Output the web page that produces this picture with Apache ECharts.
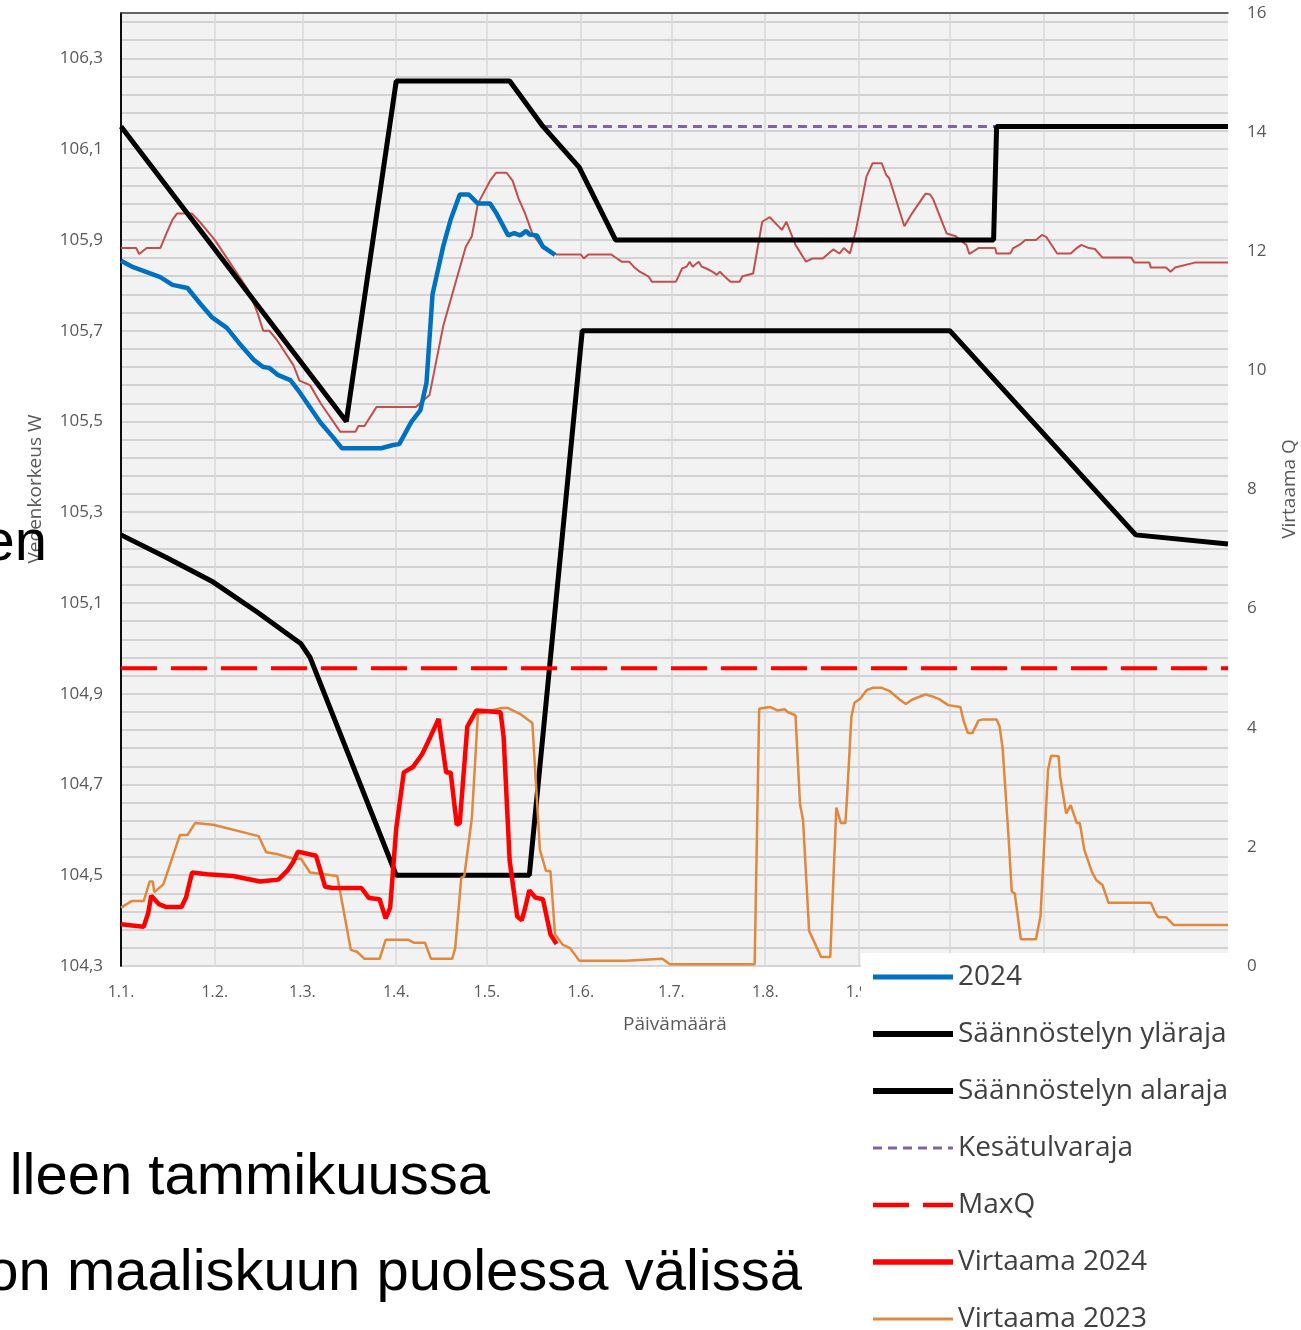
<!DOCTYPE html>
<html>
<head>
<meta charset="utf-8">
<title>Vedenkorkeus ja virtaama</title>
<script src="https://cdn.jsdelivr.net/npm/echarts@6/dist/echarts.min.js"></script>
<style>
html, body { margin: 0; padding: 0; background: #fff; }
#main { width: 1301px; height: 1330px; }
</style>
</head>
<body>
<div id="main"></div>
<script>
// x = päivä vuoden alusta (0 = 1.1.)
var monthStarts = [0, 31, 60, 91, 121, 152, 182, 213, 244, 274, 305, 335];
var monthLabels = ['1.1.', '1.2.', '1.3.', '1.4.', '1.5.', '1.6.', '1.7.', '1.8.', '1.9.', '1.10.', '1.11.', '1.12.'];

var legendNames = ['2024', 'Säännöstelyn yläraja', 'Säännöstelyn alaraja', 'Kesätulvaraja', 'MaxQ', 'Virtaama 2024', 'Virtaama 2023'];
var legendWidths = [5, 6, 6, 3, 4.5, 5.5, 3];

// vedenkorkeus W (vasen akseli)
var level2024 = [[0,105.854],[4,105.84],[13,105.818],[17,105.801],[22,105.794],[26,105.761],[30,105.73],[35,105.706],
  [39,105.673],[44,105.635],[47,105.62],[49,105.618],[52,105.602],[56,105.591],[59,105.565],[66,105.497],[70,105.466],
  [73,105.441],[86,105.441],[90,105.448],[92,105.45],[96,105.499],[99,105.525],[101,105.585],[103,105.78],[106.5,105.885],
  [109,105.945],[112,106.0],[115,106.0],[118,105.98],[122,105.98],[124,105.96],[128,105.91],[130,105.915],[132,105.91],
  [134,105.92],[135,105.912],[137.5,105.91],[139.5,105.885],[143.5,105.867]];

var level2023 = [[0,105.882],[5,105.882],[6,105.869],[8.5,105.882],[13,105.882],[15,105.914],[17,105.944],[18.5,105.958],
  [23.5,105.958],[26,105.94],[31,105.9],[37,105.84],[42,105.79],[45,105.742],[47,105.7],[49,105.7],[51.5,105.68],
  [57,105.624],[59,105.59],[62.5,105.58],[66,105.54],[72.5,105.477],[77.5,105.477],[78.5,105.49],[80.5,105.49],
  [84.5,105.532],[97.5,105.532],[102,105.558],[106.5,105.709],[109,105.768],[114,105.885],[116,105.908],[118,105.98],
  [122,106.03],[124,106.048],[127.5,106.048],[129.5,106.03],[131.5,105.99],[133.5,105.96],[136,105.914],[137.5,105.9],
  [139.5,105.882],[144,105.868],[152,105.868],[153,105.859],[154.5,105.868],[162,105.868],[164,105.859],[165.5,105.852],
  [168,105.852],[169.5,105.841],[171.5,105.83],[174.5,105.819],[175.5,105.808],[183.5,105.808],[185.5,105.837],
  [187,105.841],[188,105.852],[189,105.841],[191,105.852],[192,105.841],[193.5,105.837],[195.5,105.83],[197,105.823],
  [198,105.83],[199.5,105.82],[201.5,105.808],[204.5,105.808],[205.5,105.82],[209,105.826],[212,105.94],[214.5,105.95],
  [218.5,105.922],[220,105.94],[223,105.889],[226.5,105.852],[228.5,105.859],[232,105.859],[235.5,105.879],[237.5,105.87],
  [239,105.882],[241,105.87],[243,105.922],[246.5,106.04],[248.5,106.069],[251.5,106.069],[253,106.043],[254,106.036],
  [259,105.93],[261.5,105.958],[266,106.002],[267.5,106.0],[268.5,105.99],[273,105.914],[276,105.908],[279.5,105.889],
  [280.5,105.869],[283.5,105.882],[289,105.882],[289.5,105.87],[294,105.87],[295,105.882],[297,105.889],[299,105.9],
  [302.5,105.9],[304.5,105.911],[306,105.906],[309.5,105.87],[314,105.87],[316,105.882],[317.5,105.889],[320,105.882],
  [322,105.88],[324.5,105.861],[334,105.861],[335,105.85],[340,105.85],[340.5,105.839],[345.5,105.839],[347,105.83],
  [348.5,105.839],[355,105.85],[366,105.85]];

var upperLimit = [[0,106.15],[74.5,105.5],[91,106.25],[128.5,106.25],[139.5,106.15],[151.5,106.06],[163.5,105.9],
  [288.5,105.9],[289.5,106.15],[366,106.15]];
var lowerLimit = [[0,105.25],[15,105.2],[30.5,105.146],[45,105.08],[59.5,105.01],[62.5,104.98],[91,104.5],[135,104.5],
  [152.5,105.7],[274,105.7],[335.5,105.25],[366,105.23]];
var summerFloodLimit = [[139.5,106.15],[289.5,106.15]];

// virtaama Q (oikea akseli)
var maxQ = [[0,5],[366,5]];
var flow2024 = [[0,0.7],[7.5,0.66],[9,0.89],[10,1.18],[12.5,1.04],[15,0.99],[20,0.99],[21.5,1.15],[23.5,1.57],
  [28.5,1.54],[37,1.51],[46,1.42],[52,1.45],[55,1.6],[57,1.75],[58.5,1.92],[64.5,1.85],[67.5,1.33],[70,1.31],
  [79.5,1.31],[82,1.14],[85.5,1.12],[87.5,0.8],[89,0.98],[91,2.31],[93.5,3.25],[96.5,3.34],[99.5,3.55],[101.5,3.76],
  [105,4.15],[107.5,3.25],[109,3.25],[111,2.37],[112,2.4],[114.5,4.02],[117.5,4.29],[125.5,4.26],[126.5,3.85],
  [128.5,1.77],[131,0.83],[132.5,0.77],[133.5,0.95],[135,1.27],[137,1.15],[139.5,1.12],[142,0.53],[144,0.37]];
var flow2023 = [[0,0.98],[3.5,1.09],[7.5,1.09],[9.5,1.42],[10.5,1.42],[11,1.24],[14,1.37],[19.5,2.2],[22,2.2],
  [24.5,2.4],[30.5,2.37],[45.5,2.18],[48,1.91],[51.5,1.88],[57,1.8],[59.5,1.8],[62.5,1.57],[71.5,1.51],[76,0.27],
  [78,0.24],[80.5,0.12],[85.5,0.12],[87.5,0.44],[95,0.44],[97,0.39],[100.5,0.39],[102.5,0.12],[109.5,0.12],[110.5,0.3],
  [112.5,1.48],[113.5,1.51],[116,2.48],[118,4.23],[120,4.26],[125.5,4.33],[128,4.33],[132,4.23],[136,4.08],[138.5,1.95],
  [140.5,1.6],[142,1.59],[143.5,0.53],[146,0.36],[148.5,0.3],[151.5,0.09],[167,0.09],[167.5,0.12],[179,0.12],
  [181.5,0.03],[209.5,0.03],[211,4.32],[214.5,4.35],[217,4.29],[219.5,4.31],[220.5,4.26],[223,4.21],[224.5,2.72],
  [225.5,2.45],[227.5,0.59],[231.5,0.15],[234.5,0.15],[236.5,2.66],[238,2.4],[239.5,2.4],[240,2.79],[241.5,4.19],
  [242.5,4.42],[244.5,4.49],[246.5,4.63],[248.5,4.67],[251.5,4.67],[254,4.62],[257.5,4.47],[259.5,4.4],[261.5,4.47],
  [264,4.52],[266,4.56],[268,4.53],[270.5,4.48],[273.5,4.38],[277.5,4.35],[278.5,4.13],[280,3.91],[281.5,3.91],
  [283.5,4.12],[285,4.14],[289.5,4.14],[290.5,4.02],[291.5,3.65],[293.5,2.12],[294.5,1.25],[295.5,1.22],[297.5,0.45],
  [302.5,0.45],[304,0.83],[306.5,3.29],[307.5,3.53],[310,3.52],[310.5,3.18],[312.5,2.56],[314,2.7],[316,2.4],[317,2.4],
  [318.5,1.95],[321,1.58],[322.5,1.44],[324.5,1.36],[326.5,1.06],[340.5,1.06],[342,0.89],[343,0.82],[345.5,0.82],
  [348,0.69],[366,0.69]];

var labelFont = 'Open Sans';
var gray = '#595959';

function line(name, data, color, width, yIndex, dash) {
  return {
    name: name,
    type: 'line',
    data: data,
    yAxisIndex: yIndex,
    symbol: 'none',
    animation: false,
    lineStyle: { color: color, width: width, type: dash || 'solid', cap: 'butt' },
    itemStyle: { color: color }
  };
}

var legendData = legendNames.map(function (n, i) {
  return { name: n, lineStyle: { width: legendWidths[i] } };
});

var myChart = echarts.init(document.getElementById('main'));
myChart.setOption({
  backgroundColor: '#fff',
  animation: false,
  grid: { left: 121, top: 13, width: 1107, height: 953, show: true, backgroundColor: '#f2f2f2', borderWidth: 0 },
  xAxis: [{
    type: 'value', min: 0, max: 366,
    axisLine: { show: false },
    axisTick: { show: false, customValues: monthStarts },
    axisLabel: {
      customValues: monthStarts, margin: 18,
      color: gray, fontFamily: labelFont, fontSize: 16,
      formatter: function (v) { return monthLabels[monthStarts.indexOf(v)]; }
    },
    splitLine: { show: true, lineStyle: { color: '#d9d9d9', width: 1.5 } }
  }, {
    type: 'value', min: 0, max: 366, position: 'top',
    axisLine: { show: true, lineStyle: { color: '#404040', width: 1.5 } },
    axisTick: { show: false }, axisLabel: { show: false }, splitLine: { show: false }
  }],
  yAxis: [{
    type: 'value', min: 104.3, max: 106.4, interval: 0.2,
    axisLine: { show: true, lineStyle: { color: '#000', width: 1.5 } },
    axisTick: { show: false },
    axisLabel: {
      margin: 18, showMaxLabel: false,
      color: gray, fontFamily: labelFont, fontSize: 17,
      formatter: function (v) { return v.toFixed(1).replace('.', ','); }
    },
    splitLine: { show: true, lineStyle: { color: '#c8c8c8', width: 1.5 } },
    minorTick: { show: false, splitNumber: 5 },
    minorSplitLine: { show: true, lineStyle: { color: '#c8c8c8', width: 1.5 } }
  }, {
    type: 'value', min: 0, max: 16, interval: 2, position: 'right',
    axisLine: { show: true, lineStyle: { color: '#000', width: 1.5 } },
    axisTick: { show: false },
    axisLabel: { margin: 19, color: gray, fontFamily: labelFont, fontSize: 17 },
    splitLine: { show: false }
  }],
  legend: {
    data: legendData,
    orient: 'vertical', left: 861, top: 953, height: 390,
    padding: [9, 8, 60, 9],
    backgroundColor: '#fff',
    itemWidth: 80, itemHeight: 14, itemGap: 27,
    selectedMode: false,
    itemStyle: { opacity: 0 },
    textStyle: { fontFamily: labelFont, fontSize: 28, color: '#404040', lineHeight: 30 },
    z: 10
  },
  series: [
    line('2023', level2023, '#c0504d', 2, 0),
    line('Kesätulvaraja', summerFloodLimit, '#8064a2', 3, 0, [9, 6]),
    line('Säännöstelyn yläraja', upperLimit, '#000', 5, 0),
    line('Säännöstelyn alaraja', lowerLimit, '#000', 5, 0),
    line('2024', level2024, '#0070c0', 4.5, 0),
    line('MaxQ', maxQ, '#ff0000', 4, 1, [36, 14]),
    line('Virtaama 2023', flow2023, '#e0883c', 2.5, 1),
    line('Virtaama 2024', flow2024, '#ff0000', 4.5, 1)
  ],
  graphic: [
    { type: 'text', x: 36, y: 489, rotation: Math.PI / 2, z: 5,
      style: { text: 'Vedenkorkeus W', fill: gray, font: '19px "Open Sans"', align: 'center', verticalAlign: 'middle' } },
    { type: 'text', x: 1290, y: 489, rotation: Math.PI / 2, z: 5,
      style: { text: 'Virtaama Q', fill: gray, font: '19px "Open Sans"', align: 'center', verticalAlign: 'middle' } },
    { type: 'text', x: 675, y: 1025, z: 5,
      style: { text: 'Päivämäärä', fill: gray, font: '19px "Open Sans"', align: 'center', verticalAlign: 'middle' } },
    { type: 'text', x: 47, y: 544, z: 20,
      style: { text: 'en', fill: '#000', font: '58px "Liberation Sans"', align: 'right', verticalAlign: 'middle' } },
    { type: 'text', x: 490, y: 1178, z: 20,
      style: { text: 'lleen tammikuussa', fill: '#000', font: '58px "Liberation Sans"', align: 'right', verticalAlign: 'middle' } },
    { type: 'text', x: 802, y: 1274, z: 20,
      style: { text: 'on maaliskuun puolessa välissä', fill: '#000', font: '58px "Liberation Sans"', align: 'right', verticalAlign: 'middle' } }
  ]
});
</script>
</body>
</html>
